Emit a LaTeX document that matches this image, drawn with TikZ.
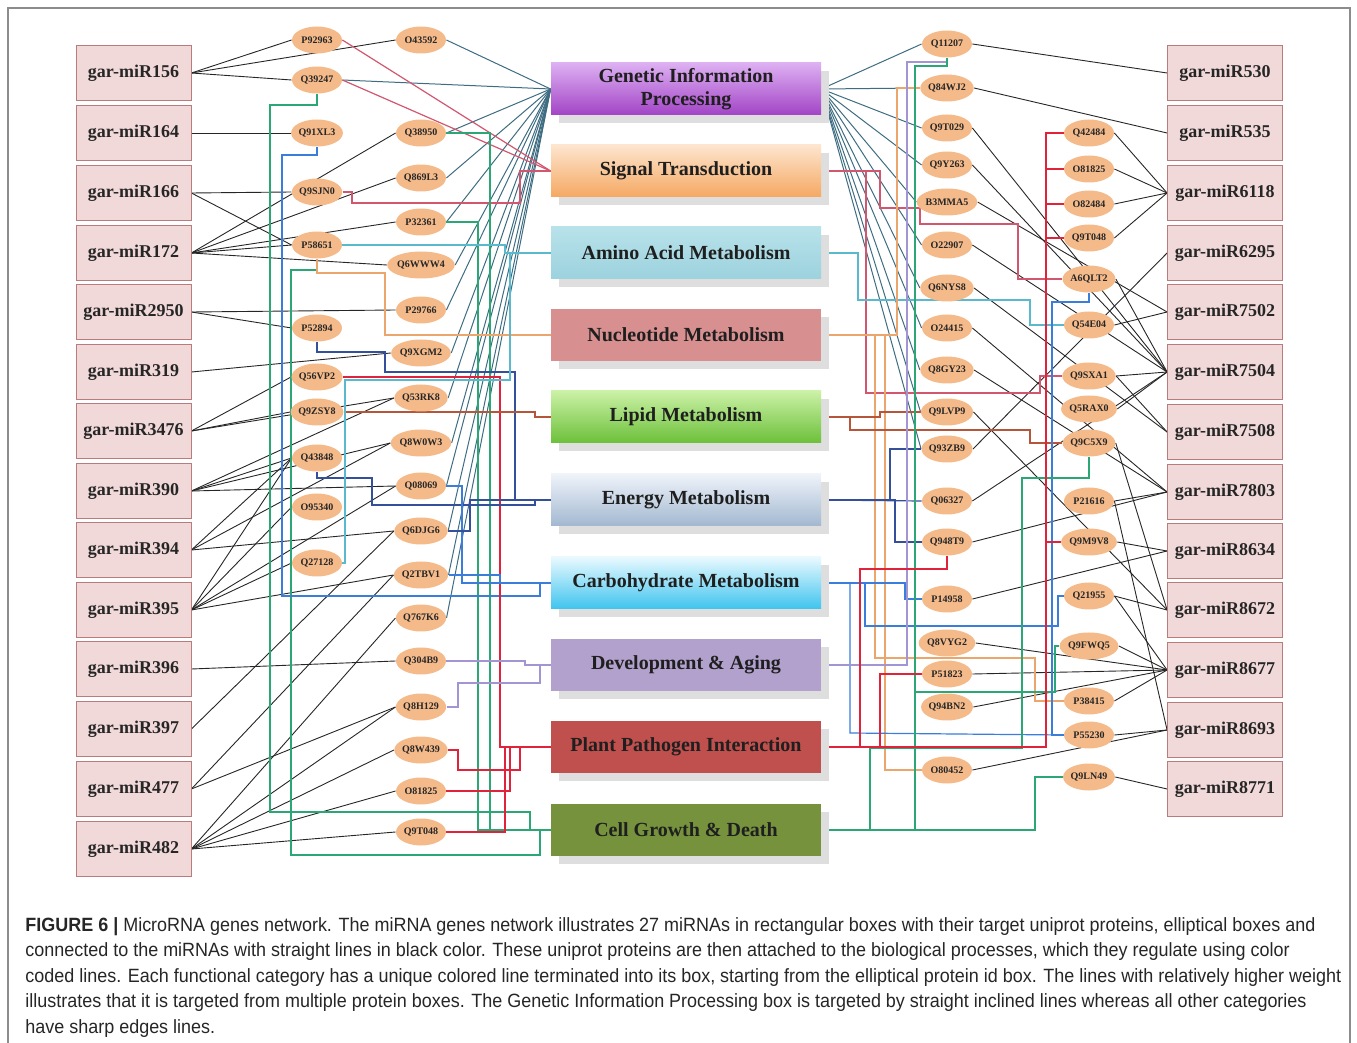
\documentclass[tikz,border=0pt]{standalone}
\usepackage{fontspec}
\setmainfont{Liberation Serif}
\newfontfamily\capfont[FakeStretch=0.936]{Liberation Sans}
\usetikzlibrary{shapes.geometric,shadows}
\pgfdeclarelayer{bg}
\pgfsetlayers{bg,main}

\definecolor{mirfill}{HTML}{F2D9D9}
\definecolor{mirdraw}{HTML}{B97C7C}
\definecolor{protfill}{HTML}{F5BA8A}
\definecolor{gipT}{HTML}{DDB0F2}
\definecolor{gipB}{HTML}{A244C6}
\definecolor{sigT}{HTML}{FDE5CE}
\definecolor{sigB}{HTML}{F5A862}
\definecolor{aminoT}{HTML}{B8E2EA}
\definecolor{aminoB}{HTML}{9CD2DE}
\definecolor{nucF}{HTML}{D78F8F}
\definecolor{lipT}{HTML}{CBF1A6}
\definecolor{lipB}{HTML}{6CC03A}
\definecolor{enT}{HTML}{EFF3FA}
\definecolor{enB}{HTML}{A2B8D0}
\definecolor{carbT}{HTML}{E9F9FF}
\definecolor{carbB}{HTML}{3EC4EE}
\definecolor{devF}{HTML}{B1A1CC}
\definecolor{pathF}{HTML}{C0504D}
\definecolor{cellF}{HTML}{76923C}
\definecolor{gipline}{HTML}{3E6D82}
\definecolor{sigline}{HTML}{D2566E}
\definecolor{aminoline}{HTML}{5BB9CE}
\definecolor{nucline}{HTML}{EAA66C}
\definecolor{lipline}{HTML}{B5563A}
\definecolor{enline}{HTML}{34509A}
\definecolor{carbline}{HTML}{3B7DDB}
\definecolor{devline}{HTML}{A394D4}
\definecolor{pathline}{HTML}{E0223A}
\definecolor{cellline}{HTML}{2BA776}

\tikzset{
  mirna/.style={draw=mirdraw, fill=mirfill, minimum width=57.5pt, minimum height=27.5pt,
    inner sep=0pt, font=\bfseries\fontsize{9}{10}\selectfont, text=black!85},
  prot/.style={ellipse, fill=protfill, minimum width=25pt, minimum height=13.5pt,
    inner sep=0pt, font=\bfseries\fontsize{5}{5}\selectfont, text=black!85},
  cat/.style={minimum width=135pt, minimum height=26pt, inner sep=0pt, align=center,
    font=\bfseries\fontsize{10}{11.5}\selectfont, text=black!88,
    drop shadow={shadow xshift=4pt, shadow yshift=-4pt, fill=black!13, opacity=1}},
  hitline/.style={black!85, line width=0.45pt},
  toGIP/.style={gipline, line width=0.5pt},
  toSig/.style={sigline, line width=0.6pt},
  toAmino/.style={aminoline, line width=0.6pt},
  toNuc/.style={nucline, line width=0.6pt},
  toLip/.style={lipline, line width=0.6pt},
  toEn/.style={enline, line width=0.6pt},
  toCarb/.style={carbline, line width=0.6pt},
  toDev/.style={devline, line width=0.6pt},
  toPath/.style={pathline, line width=0.8pt},
  toCell/.style={cellline, line width=0.6pt}
}

\begin{document}
\begin{tikzpicture}[x=0.5pt,y=-0.5pt]
\useasboundingbox (0,0) rectangle (1357,1043);
\draw[black!45, line width=0.6pt] (8,1043) -- (8,8) -- (1350,8) -- (1350,1043);

% miRNA boxes
\foreach \n/\y in {156/73,164/133,166/193,172/253,2950/312,319/372,3476/431,390/491,394/550,395/610,396/669,397/729,477/789,482/849}
  \node[mirna] (m\n) at (133.5,\y) {gar-miR\n};
\foreach \n/\y in {530/73,535/133,6118/193,6295/253,7502/312,7504/372,7508/432,7803/492,8634/551,8672/610,8677/670,8693/730,8771/789}
  \node[mirna] (m\n) at (1225,\y) {gar-miR\n};

% functional categories
\node[cat, top color=gipT, bottom color=gipB] (gip) at (686,89) {Genetic Information\\Processing};
\node[cat, top color=sigT, bottom color=sigB] (sig) at (686,171) {Signal Transduction};
\node[cat, top color=aminoT, bottom color=aminoB] (amino) at (686,253) {Amino Acid Metabolism};
\node[cat, fill=nucF] (nuc) at (686,335) {Nucleotide Metabolism};
\node[cat, top color=lipT, bottom color=lipB] (lip) at (686,417) {Lipid Metabolism};
\node[cat, top color=enT, bottom color=enB] (en) at (686,500) {Energy Metabolism};
\node[cat, top color=carbT, bottom color=carbB] (carb) at (686,583) {Carbohydrate Metabolism};
\node[cat, fill=devF] (dev) at (686,665) {Development \& Aging};
\node[cat, fill=pathF] (pp) at (686,747) {Plant Pathogen Interaction};
\node[cat, fill=cellF] (cg) at (686,830) {Cell Growth \& Death};

% proteins
\foreach \n/\y in {P92963/40,Q39247/80,Q91XL3/133,Q9SJN0/192,P58651/245,P52894/328,Q56VP2/377,Q9ZSY8/412,Q43848/458,O95340/507,Q27128/563}
  \node[prot] (\n) at (317,\y) {\n};
\foreach \n/\y in {O43592/40,Q38950/133,Q869L3/178,P32361/222,Q6WWW4/265,P29766/310,Q9XGM2/353,Q53RK8/398,Q8W0W3/443,Q08069/486,Q6DJG6/531,Q2TBV1/575,Q767K6/618,Q304B9/661,Q8H129/707,Q8W439/750,O81825/791,Q9T048/832}
  \node[prot] (\n) at (421,\y) {\n};
\foreach \n/\y in {Q11207/44,Q84WJ2/88,Q9T029/128,Q9Y263/165,B3MMA5/202,O22907/245,Q6NYS8/288,O24415/328,Q8GY23/370,Q9LVP9/412,Q93ZB9/449,Q06327/501,Q948T9/542,P14958/599,Q8VYG2/643,P51823/674,Q94BN2/707,O80452/770}
  \node[prot] (\n) at (947,\y) {\n};
\foreach \n/\t/\y in {Q42484/Q42484/133,O81825R/O81825/169,O82484/O82484/204,Q9T048R/Q9T048/238,A6QLT2/A6QLT2/279,Q54E04/Q54E04/325,Q9SXA1/Q9SXA1/376,Q5RAX0/Q5RAX0/409,Q9C5X9/Q9C5X9/443,P21616/P21616/501,Q9M9V8/Q9M9V8/542,Q21955/Q21955/596,Q9FWQ5/Q9FWQ5/646,P38415/P38415/701,P55230/P55230/735,Q9LN49/Q9LN49/777}
  \node[prot] (\n) at (1089,\y) {\t};

\begin{pgfonlayer}{bg}
% miRNA targets
\foreach \a/\b in {m156/P92963,m156/O43592,m156/Q39247,m164/Q91XL3,m166/Q9SJN0,m166/P58651,m172/Q38950,m172/Q869L3,m172/P32361,m172/P58651,m172/Q6WWW4,m2950/P29766,m2950/P52894,m319/Q9XGM2,m3476/Q56VP2,m3476/Q9ZSY8,m3476/Q53RK8,m390/Q53RK8,m390/Q43848,m390/Q8W0W3,m390/Q08069,m394/Q43848,m394/Q8W0W3,m394/Q6DJG6,m395/Q43848,m395/O95340,m395/Q27128,m395/Q08069,m395/Q2TBV1,m396/Q304B9,m397/Q6DJG6,m477/Q2TBV1,m477/Q8H129,m482/Q767K6,m482/Q8H129,m482/Q8W439,m482/O81825,m482/Q9T048}
  \draw[hitline] (\a.east) -- (\b.west);
\foreach \a/\b in {Q11207/m530,Q84WJ2/m535,Q42484/m6118,O81825R/m6118,O82484/m6118,Q9T048R/m6118,Q93ZB9/m6295,B3MMA5/m7502,Q54E04/m7502,Q9T029/m7504,Q9Y263/m7504,O22907/m7504,A6QLT2/m7504,Q9SXA1/m7504,Q5RAX0/m7504,Q06327/m7504,Q6NYS8/m7508,Q9SXA1/m7508,O24415/m7803,Q8GY23/m7803,Q948T9/m7803,P21616/m7803,P14958/m8634,Q9M9V8/m8634,Q9LVP9/m8672,Q9C5X9/m8672,Q21955/m8672,Q8VYG2/m8677,P51823/m8677,Q94BN2/m8677,Q9FWQ5/m8677,P38415/m8677,Q21955/m8677,O80452/m8693,P55230/m8693,P21616/m8693,Q9LN49/m8771}
  \draw[hitline] (\a.east) -- (\b.west);

% genetic information processing
\foreach \p in {O43592,Q39247,Q38950,Q869L3,P32361,Q6WWW4,P29766,Q9XGM2,Q53RK8,Q8W0W3,Q08069,Q6DJG6,Q2TBV1,Q767K6}
  \draw[toGIP] (\p.east) -- (gip.west);
\foreach \p in {Q11207,Q84WJ2,Q9T029,Q9Y263,B3MMA5,O22907,Q6NYS8,O24415,Q8GY23,Q9LVP9,Q93ZB9}
  \draw[toGIP] (gip.east) -- (\p.west);

% left side
\draw[toSig] (P92963.east) -- (sig.west);
\draw[toSig] (Q39247.east) -- (sig.west);
\draw[toSig] (Q9SJN0.east) -- (352,192) -- (352,203) -- (520,203) |- (sig.west);
\draw[toCell] (Q39247.south) -- (317,105) -- (270,105) -- (270,812) -- (530,812) |- (cg.west);
\draw[toCell] (P58651.south) -- (317,270) -- (291,270) -- (291,855) -- (540,855) |- (cg.west);
\draw[toCell] (Q38950.east) -- (490,133) |- (cg.west);
\draw[toCell] (P32361.east) -- (478,222) |- (cg.west);
\draw[toCarb] (Q91XL3.south) -- (317,155) -- (282,155) -- (282,596) -- (540,596) |- (carb.west);
\draw[toAmino] (P58651.east) -- (505,245) |- (amino.west);
\draw[toNuc] (P58651.south) -- (317,273) -- (385,273) |- (nuc.west);
\draw[toEn] (P52894.south) -- (317,352) -- (385,352) -- (385,372) -- (515,372) |- (en.west);
\draw[toPath] (Q56VP2.east) -- (500,377) |- (pp.west);
\draw[toLip] (Q9ZSY8.east) -- (535,412) |- (lip.west);
\draw[toEn] (Q43848.south) -- (317,478) -- (372,478) -- (372,505) -- (535,505) |- (en.west);
\draw[toCarb] (Q08069.east) -- (462,486) |- (carb.west);
\draw[toEn] (Q6DJG6.east) -- (470,531) |- (en.west);
\draw[toCarb] (Q2TBV1.east) -- (500,575) |- (carb.west);
\draw[toAmino] (Q27128.east) -- (345,563) -- (345,380) -- (510,380) |- (amino.west);
\draw[toDev] (Q304B9.east) -- (525,661) |- (dev.west);
\draw[toDev] (Q8H129.east) -- (458,707) -- (458,683) -- (540,683) |- (dev.west);
\draw[toPath] (Q8W439.east) -- (458,750) -- (458,770) -- (520,770) |- (pp.west);
\draw[toPath] (O81825.east) -- (510,791) |- (pp.west);
\draw[toPath] (Q9T048.east) -- (505,832) |- (pp.west);

% right side
\draw[toSig] (sig.east) -- (880,171) -- (880,208) -- (920,208) -- (920,224) -- (1018,224) |- (A6QLT2.west);
\draw[toSig] (sig.east) -- (866,171) -- (866,393) -- (1040,393) |- (Q9SXA1.west);
\draw[toAmino] (amino.east) -- (858,253) -- (858,300) -- (1030,300) |- (Q54E04.west);
\draw[toNuc] (nuc.east) -- (897,335) |- (Q84WJ2.west);
\draw[toNuc] (nuc.east) -- (885,335) |- (O80452.west);
\draw[toNuc] (nuc.east) -- (875,335) -- (875,658) -- (1035,658) |- (P38415.west);
\draw[toLip] (lip.east) -- (880,417) |- (Q9LVP9.west);
\draw[toLip] (lip.east) -- (850,417) -- (850,430) -- (1030,430) |- (Q9C5X9.west);
\draw[toEn] (en.east) -- (Q06327.west);
\draw[toEn] (en.east) -- (890,500) |- (Q93ZB9.west);
\draw[toEn] (en.east) -- (895,500) |- (Q948T9.west);
\draw[toCarb] (carb.east) -- (905,583) |- (P14958.west);
\draw[toCarb] (carb.east) -- (865,583) -- (865,626) -- (1058,626) |- (Q21955.west);
\draw[toCarb] (carb.east) -- (850,583) -- (850,733) -- (P55230.west);
\draw[toCarb] (A6QLT2.south) -- (1089,302) -- (1052,302) |- (P55230.west);
\draw[toDev] (dev.east) -- (907,665) -- (907,62) -| (Q11207.south);
\draw[toCell] (cg.east) -- (915,830) -- (915,66) -| (Q11207.south);
\draw[toCell] (cg.east) -- (870,830) -- (870,748) -- (1022,748) -- (1022,478) -| (Q9C5X9.south);
\draw[toCell] (cg.east) -- (915,830) -- (915,692) -- (1055,692) |- (Q9FWQ5.west);
\draw[toCell] (cg.east) -- (1035,830) |- (Q9LN49.west);
\coordinate (redbus) at (1046,133);
\draw[toPath] (pp.east) -- (1046,747) -- (redbus) -- (Q42484.west);
\foreach \p in {O81825R,O82484,Q9T048R,Q9M9V8}
  \draw[toPath] (\p.west -| redbus) -- (\p.west);
\draw[toPath] (pp.east) -- (860,747) -- (860,569) -| (Q948T9.south);
\draw[toPath] (pp.east) -- (880,747) |- (P51823.west);
\end{pgfonlayer}

% caption
\node[anchor=north west, align=left, inner sep=0pt, text=black!85,
  font=\capfont\fontsize{9.6}{12.75}\selectfont] (caption) at (25,917)
  {\textbf{FIGURE 6 |} MicroRNA genes network. The miRNA genes network illustrates 27 miRNAs in rectangular boxes with their target uniprot proteins, elliptical boxes and\\
  connected to the miRNAs with straight lines in black color. These uniprot proteins are then attached to the biological processes, which they regulate using color\\
  coded lines. Each functional category has a unique colored line terminated into its box, starting from the elliptical protein id box. The lines with relatively higher weight\\
  illustrates that it is targeted from multiple protein boxes. The Genetic Information Processing box is targeted by straight inclined lines whereas all other categories\\
  have sharp edges lines.};
\end{tikzpicture}
\end{document}
